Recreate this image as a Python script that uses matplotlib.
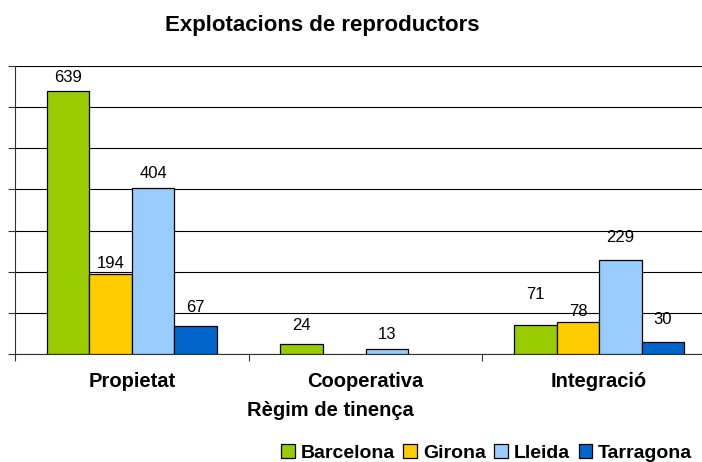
import matplotlib
matplotlib.use("Agg")
import matplotlib.pyplot as plt
import numpy as np

categories = ["Propietat", "Cooperativa", "Integració"]
series = ["Barcelona", "Girona", "Lleida", "Tarragona"]
barcelona = [639, 24, 71]
girona = [194, None, 78]
lleida = [404, 13, 229]
tarragona = [67, None, 30]
colors = ["#99CC00", "#FFCC00", "#99CCFF", "#0066CC"]
# label offsets above bar tops (pixels), mimicking original placement
label_offsets = [
    [14, 11, 14, 19],
    [19, 0, 14, 0],
    [30, 10, 22, 22],
]

plt.rcParams['font.family'] = ['Liberation Sans', 'DejaVu Sans']
fig = plt.figure(figsize=(7.02, 4.62), dpi=100)
W, H = 702, 462
left, right, bottom, top = 15, 716, 354, 66
ax = fig.add_axes([left / W, 1 - bottom / H, (right - left) / W, (bottom - top) / H])

data = [barcelona, girona, lleida, tarragona]
x = np.arange(len(categories))
bw = 0.182
for si, (name, vals) in enumerate(zip(series, data)):
    xs = x + (si - 1.5) * bw
    idx = [i for i, v in enumerate(vals) if v is not None]
    ax.bar([xs[i] for i in idx], [vals[i] for i in idx], bw, color=colors[si],
           edgecolor="black", linewidth=0.9, label=name, zorder=3)
    for ci in idx:
        v = vals[ci]
        ax.annotate(str(v), (xs[ci], v), xytext=(0, label_offsets[ci][si] * 0.72),
                    textcoords="offset points", ha="center", va="center",
                    fontsize=12, color="black")

ax.set_xlim(-0.5, len(categories) - 0.5)
ax.set_ylim(0, 700)
ax.set_yticks(np.arange(0, 701, 100))
ax.set_yticklabels([])
ax.yaxis.grid(True, color="black", linewidth=0.8, zorder=0)
ax.set_axisbelow(True)
ax.set_xticks(np.arange(-0.5, len(categories) + 0.5, 1))
ax.set_xticklabels([])
ax.tick_params(axis="x", direction="out", length=5, width=0.8, color="#333333")
ax.tick_params(axis="y", direction="out", length=5, width=0.8, color="#333333")
for s in ["top", "right"]:
    ax.spines[s].set_visible(False)
ax.spines["left"].set_color("#333333")
ax.spines["bottom"].set_color("#333333")

for ci, c in enumerate(categories):
    ax.text(ci, -0.097, c, transform=ax.get_xaxis_transform(), ha="center", va="center",
            fontsize=14.5, fontweight="bold")

fig.text(322 / W, 1 - 26 / H, "Explotacions de reproductors", ha="center", va="center",
         fontsize=16, fontweight="bold")
fig.text(330 / W, 1 - 411 / H, "Règim de tinença", ha="center", va="center",
         fontsize=14.5, fontweight="bold")

leg = fig.legend(loc="center right", bbox_to_anchor=(704 / W, 1 - 453 / H), ncol=4,
                 frameon=False, prop={"weight": "bold", "size": 14},
                 handlelength=0.7, handleheight=0.7, handletextpad=0.3,
                 columnspacing=0.45, borderpad=0.1)

fig.savefig("out.png", dpi=100)
